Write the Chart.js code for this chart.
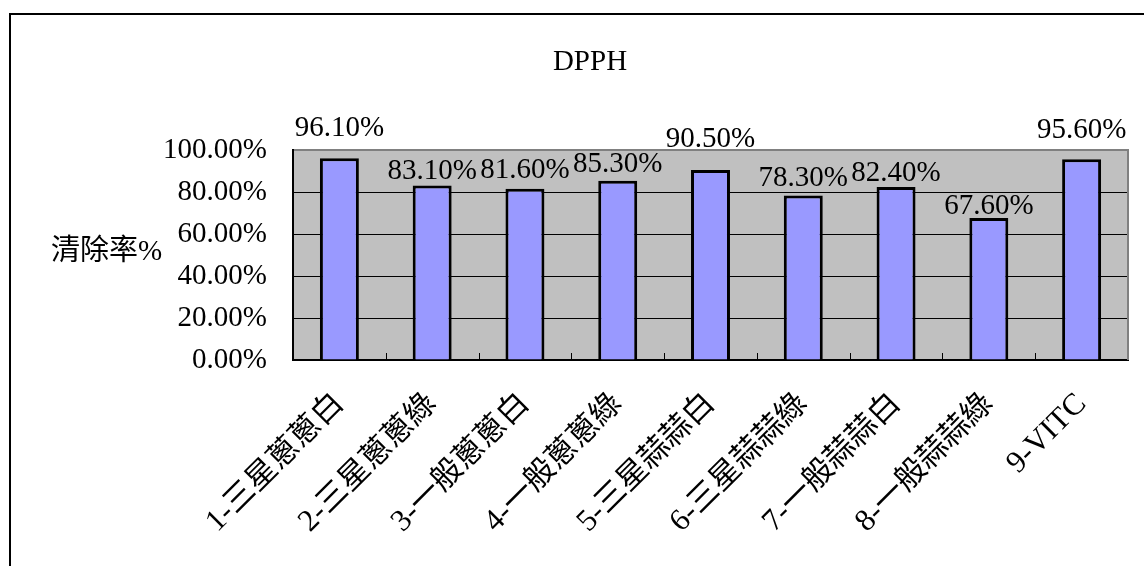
<!DOCTYPE html>
<html>
<head>
<meta charset="utf-8">
<script src="https://cdn.jsdelivr.net/npm/chart.js@4/dist/chart.umd.min.js"></script>
<style>
  html, body { margin: 0; padding: 0; background: #fff; overflow: hidden; }
  #stage { position: relative; width: 1144px; height: 566px; }
  #frame { position: absolute; left: 9px; top: 13px; width: 1200px; height: 620px; border: 2px solid #000; box-sizing: border-box; }
  #chart { position: absolute; left: 0; top: 0; }
</style>
</head>
<body>
<div id="stage">
  <div id="frame"></div>
  <canvas id="chart" width="1144" height="566"></canvas>
</div>
<script>
// Samples and their DPPH scavenging rate (%)
const categories = ['1-三星蔥蔥白', '2-三星蔥蔥綠', '3-一般蔥蔥白', '4-一般蔥蔥綠', '5-三星蒜蒜白', '6-三星蒜蒜綠', '7-一般蒜蒜白', '8-一般蒜蒜綠', '9-VITC'];
const scavengingRate = [96.1, 83.1, 81.6, 85.3, 90.5, 78.3, 82.4, 67.6, 95.6];
const yTickValues = [0, 20, 40, 60, 80, 100];
const chartTitle = 'DPPH';
const yAxisTitle = '清除率%';

const FONT_FAMILY = "'Liberation Serif', 'Noto Sans CJK TC', serif";
// distance (px) between each value label's baseline and its bar top
const labelGap = [22, 6, 11, 9, 23, 10, 6, 4, 21];

const fmtPct = v => v.toFixed(2) + '%';

const decorPlugin = {
  id: 'decor',
  beforeDraw(chart) {
    const { ctx, chartArea: a } = chart;
    ctx.save();
    ctx.fillStyle = '#C0C0C0';
    ctx.fillRect(a.left, a.top, a.right - a.left, a.bottom - a.top);
    ctx.restore();
  },
  afterDraw(chart) {
    const { ctx, chartArea: a, scales } = chart;
    const x = scales.x;
    ctx.save();
    // right edge of plot area
    ctx.strokeStyle = '#808080';
    ctx.lineWidth = 2;
    ctx.beginPath();
    ctx.moveTo(a.right, a.top - 1);
    ctx.lineTo(a.right, a.bottom);
    ctx.stroke();
    // inward tick marks at category boundaries
    ctx.strokeStyle = '#000';
    ctx.lineWidth = 1;
    for (let i = 1; i < categories.length; i++) {
      const bx = Math.round((x.getPixelForValue(i - 1) + x.getPixelForValue(i)) / 2) + 0.5;
      ctx.beginPath();
      ctx.moveTo(bx, a.bottom);
      ctx.lineTo(bx, a.bottom - 7);
      ctx.stroke();
    }
    // value labels
    ctx.fillStyle = '#000';
    ctx.font = '29px ' + FONT_FAMILY;
    ctx.textAlign = 'center';
    ctx.textBaseline = 'alphabetic';
    const meta = chart.getDatasetMeta(0);
    meta.data.forEach((bar, i) => {
      ctx.fillText(scavengingRate[i].toFixed(2) + '%', bar.x, bar.y - labelGap[i]);
    });
    // chart title
    ctx.textBaseline = 'middle';
    ctx.fillText(chartTitle, 590, 62);
    // value-axis title, horizontal
    ctx.textAlign = 'left';
    ctx.fillText(yAxisTitle, 51, 252);
    ctx.restore();
  }
};

new Chart(document.getElementById('chart'), {
  type: 'bar',
  data: {
    labels: categories,
    datasets: [{
      data: scavengingRate,
      backgroundColor: '#9999FF',
      borderColor: '#000000',
      borderWidth: 3,
      barPercentage: 0.42,
      categoryPercentage: 1.0
    }]
  },
  options: {
    responsive: false,
    devicePixelRatio: 1,
    animation: false,
    layout: { padding: { top: 150, right: 16, bottom: 0, left: 0 } },
    plugins: {
      legend: { display: false },
      title: { display: false },
      tooltip: { enabled: false }
    },
    scales: {
      x: {
        offset: true,
        grid: { display: false, drawTicks: false },
        border: { display: true, color: '#000', width: 2 },
        ticks: {
          color: '#000',
          font: { family: FONT_FAMILY, size: 31 },
          minRotation: 45,
          maxRotation: 45,
          autoSkip: false,
          padding: 26
        },
        afterFit(scale) { scale.height = 206; }
      },
      y: {
        min: 0,
        max: 100,
        afterBuildTicks(scale) { scale.ticks = yTickValues.map(v => ({ value: v })); },
        grid: {
          drawTicks: false,
          color: c => (c.tick && c.tick.value === 100 ? '#808080' : '#000'),
          lineWidth: c => (c.tick && c.tick.value === 100 ? 2 : 1)
        },
        border: { display: true, color: '#000', width: 2 },
        ticks: {
          color: '#000',
          font: { family: FONT_FAMILY, size: 29 },
          padding: 26,
          callback: v => fmtPct(v)
        },
        afterFit(scale) { scale.width = 293; }
      }
    }
  },
  plugins: [decorPlugin]
});
</script>
</body>
</html>
